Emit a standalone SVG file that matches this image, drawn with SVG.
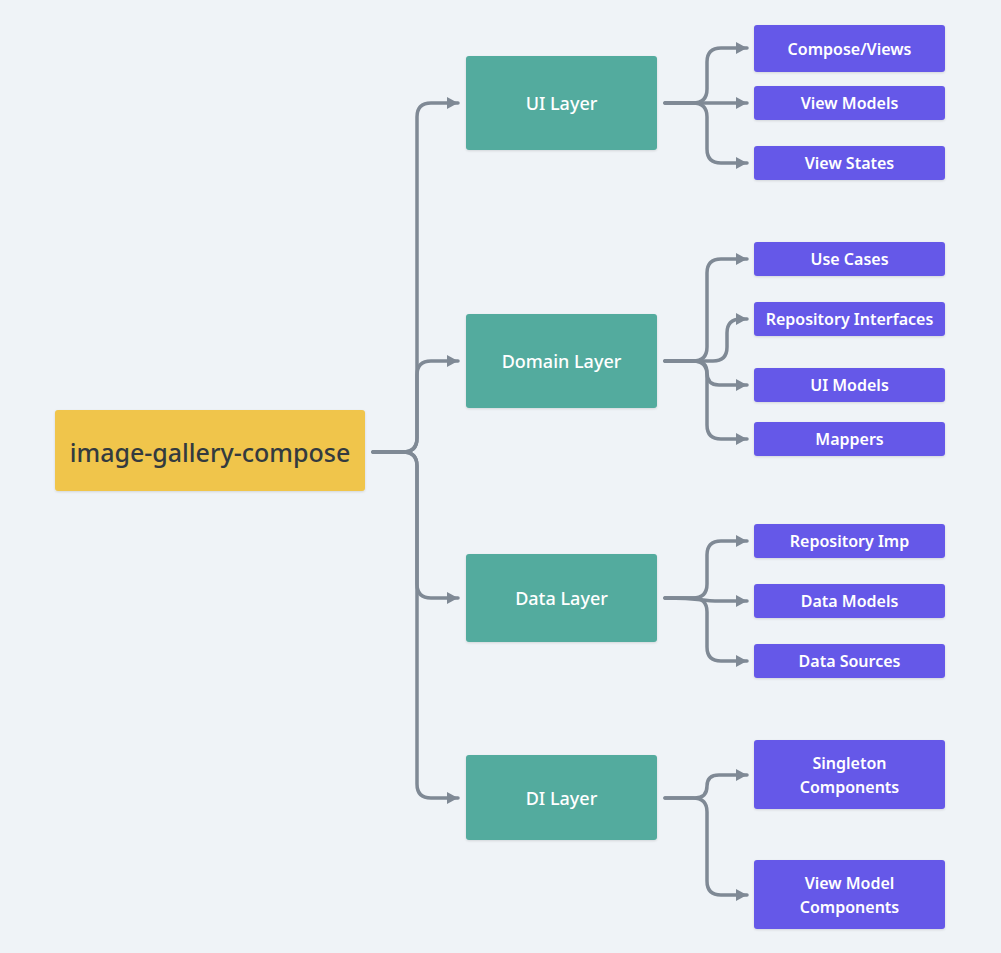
<svg xmlns="http://www.w3.org/2000/svg" width="1001" height="953" viewBox="0 0 1001 953">
<style>
.bg{fill:#eff3f7}
.root rect{fill:#f0c54b}
.layer rect{fill:#52ab9e}
.leaf rect{fill:#6558e8}
rect{filter:url(#sh)}
text{font-family:"Noto Sans","Liberation Sans",sans-serif;text-anchor:middle;dominant-baseline:central}
.root text{fill:#333a3f;font-size:25px;font-weight:500}
.layer text{fill:#ffffff;font-size:18px;font-weight:500}
.leaf text{fill:#ffffff;font-size:16px;font-weight:600}
#connectors path{fill:none;stroke:#7f8995;stroke-width:3.5;stroke-linecap:round;stroke-linejoin:round;marker-end:url(#arr)}
</style>
<defs>
<filter id="sh" x="-10%" y="-20%" width="120%" height="150%">
<feDropShadow dx="0" dy="1" stdDeviation="1.2" flood-color="#000" flood-opacity="0.12"/>
</filter>
<marker id="arr" markerUnits="userSpaceOnUse" markerWidth="14" markerHeight="14" refX="12" refY="7" orient="auto">
<path d="M1,1 L12,7 L1,13 Z" fill="#7f8995"/>
</marker>
</defs>
<rect class="bg" x="0" y="0" width="1001" height="953"/>
<g id="connectors">
<path d="M373,452 H403 Q417,452 417,438 V117 Q417,103 431,103 H458"/>
<path d="M373,452 H403 Q417,452 417,438 V375 Q417,361 431,361 H458"/>
<path d="M373,452 H403 Q417,452 417,466 V584 Q417,598 431,598 H458"/>
<path d="M373,452 H403 Q417,452 417,466 V784 Q417,798 431,798 H458"/>
<path d="M665,103 H693 Q707,103 707,89 V62 Q707,48 721,48 H747"/>
<path d="M665,103 H747"/>
<path d="M665,103 H693 Q707,103 707,117 V149 Q707,163 721,163 H747"/>
<path d="M665,361 H693 Q707,361 707,347 V273 Q707,259 721,259 H747"/>
<path d="M665,361 H713 Q727,361 727,347 V333 Q727,319 741,319 H747"/>
<path d="M665,361 H695 Q707,361 707,373 Q707,385 719,385 H747"/>
<path d="M665,361 H693 Q707,361 707,375 V425 Q707,439 721,439 H747"/>
<path d="M665,598 H693 Q707,598 707,584 V555 Q707,541 721,541 H747"/>
<path d="M665,598 C700,598 703,601 715,601 H747"/>
<path d="M665,598 H693 Q707,598 707,612 V647 Q707,661 721,661 H747"/>
<path d="M665,798 H695 Q707,798 707,786 Q707,775 719,775 H747"/>
<path d="M665,798 H693 Q707,798 707,812 V881 Q707,895 721,895 H747"/>
</g>
<g id="root" class="root"><rect x="55" y="410" width="310" height="81" rx="3"/><text x="210" y="452">image-gallery-compose</text></g>
<g id="ui-layer" class="layer"><rect x="466" y="56" width="191" height="94" rx="3"/><text x="561.5" y="103">UI Layer</text></g>
<g id="domain-layer" class="layer"><rect x="466" y="314" width="191" height="94" rx="3"/><text x="561.5" y="361">Domain Layer</text></g>
<g id="data-layer" class="layer"><rect x="466" y="554" width="191" height="88" rx="3"/><text x="561.5" y="598">Data Layer</text></g>
<g id="di-layer" class="layer"><rect x="466" y="755" width="191" height="85" rx="3"/><text x="561.5" y="798">DI Layer</text></g>
<g id="compose-views" class="leaf"><rect x="754" y="25" width="191" height="47" rx="3"/><text x="849.5" y="48.5">Compose/Views</text></g>
<g id="view-models" class="leaf"><rect x="754" y="86" width="191" height="34" rx="3"/><text x="849.5" y="103">View Models</text></g>
<g id="view-states" class="leaf"><rect x="754" y="146" width="191" height="34" rx="3"/><text x="849.5" y="163">View States</text></g>
<g id="use-cases" class="leaf"><rect x="754" y="242" width="191" height="34" rx="3"/><text x="849.5" y="259">Use Cases</text></g>
<g id="repository-interfaces" class="leaf"><rect x="754" y="302" width="191" height="34" rx="3"/><text x="849.5" y="319">Repository Interfaces</text></g>
<g id="ui-models" class="leaf"><rect x="754" y="368" width="191" height="34" rx="3"/><text x="849.5" y="385">UI Models</text></g>
<g id="mappers" class="leaf"><rect x="754" y="422" width="191" height="34" rx="3"/><text x="849.5" y="439">Mappers</text></g>
<g id="repository-imp" class="leaf"><rect x="754" y="524" width="191" height="34" rx="3"/><text x="849.5" y="541">Repository Imp</text></g>
<g id="data-models" class="leaf"><rect x="754" y="584" width="191" height="34" rx="3"/><text x="849.5" y="601">Data Models</text></g>
<g id="data-sources" class="leaf"><rect x="754" y="644" width="191" height="34" rx="3"/><text x="849.5" y="661">Data Sources</text></g>
<g id="singleton-components" class="leaf"><rect x="754" y="740" width="191" height="69" rx="3"/><text x="849.5" y="763">Singleton</text><text x="849.5" y="787">Components</text></g>
<g id="view-model-components" class="leaf"><rect x="754" y="860" width="191" height="69" rx="3"/><text x="849.5" y="883">View Model</text><text x="849.5" y="907">Components</text></g>
</svg>
